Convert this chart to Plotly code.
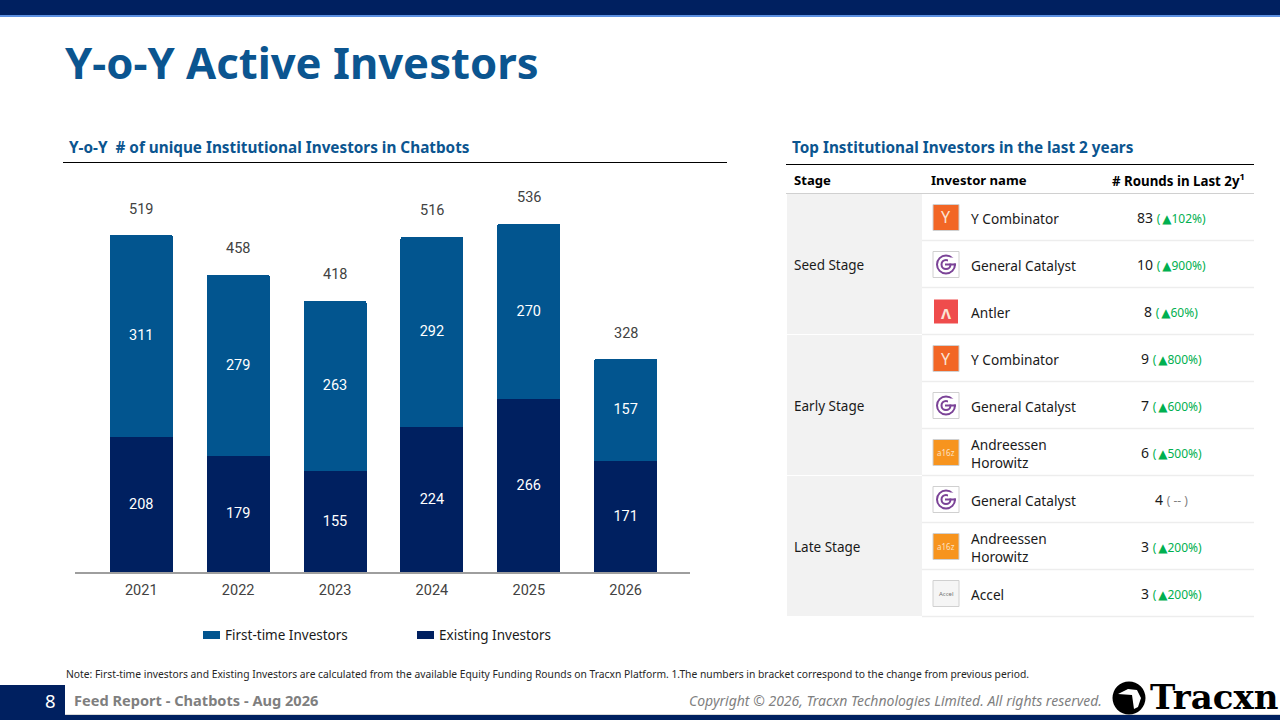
import plotly.graph_objects as go

years = ["2021", "2022", "2023", "2024", "2025", "2026"]
first_time = [311, 279, 263, 292, 270, 157]
existing = [208, 179, 155, 224, 266, 171]
totals = [519, 458, 418, 516, 536, 328]

stages = ["Seed Stage", "Early Stage", "Late Stage"]
investors = ["Y Combinator", "General Catalyst", "Antler",
             "Y Combinator", "General Catalyst", "Andreessen<br>Horowitz",
             "General Catalyst", "Andreessen<br>Horowitz", "Accel"]
logos = ["yc", "gc", "antler", "yc", "gc", "a16z", "gc", "a16z", "accel"]
rounds = [83, 10, 8, 9, 7, 6, 4, 3, 3]
changes = ["102%", "900%", "60%", "800%", "600%", "500%", None, "200%", "200%"]

NAVY = "#002060"
BLUE = "#02558F"
HEAD = "#0B5590"
GREEN = "#00B050"
FONT = "Noto Sans"
W, H = 1280, 720


def px(v):
    return v / W


def py(v):
    return 1 - v / H


shapes = []
notes = []


def rect(x0, y0, x1, y1, fill, line=None, lw=1, layer="below"):
    shapes.append(dict(type="rect", xref="paper", yref="paper", x0=px(x0), x1=px(x1), y0=py(y0), y1=py(y1),
                       fillcolor=fill, line=dict(color=line, width=lw) if line else dict(width=0), layer=layer))


def hline(x0, x1, y, color, lw=1):
    shapes.append(dict(type="line", xref="paper", yref="paper", x0=px(x0), x1=px(x1), y0=py(y), y1=py(y),
                       line=dict(color=color, width=lw), layer="below"))


def circle(cx, cy, r, fill=None, line=None, lw=1, layer="above"):
    shapes.append(dict(type="circle", xref="paper", yref="paper", x0=px(cx - r), x1=px(cx + r),
                       y0=py(cy + r), y1=py(cy - r), fillcolor=fill or "rgba(0,0,0,0)",
                       line=dict(color=line, width=lw) if line else dict(width=0), layer=layer))


def poly(points, fill, layer="above"):
    d = "M" + " L".join(f"{px(x):.5f},{py(y):.5f}" for x, y in points) + " Z"
    shapes.append(dict(type="path", xref="paper", yref="paper", path=d, fillcolor=fill, line=dict(width=0), layer=layer))


def text(x, y, s, size=14, color="#1a1a1a", anchor="left", family=FONT, bold=False, italic=False):
    if bold:
        s = f"<b>{s}</b>"
    if italic:
        s = f"<i>{s}</i>"
    shift = {"left": -2, "right": 2, "center": 0}[anchor]
    notes.append(dict(xref="paper", yref="paper", x=px(x), y=py(y), text=s, showarrow=False, xanchor=anchor,
                      yanchor="middle", align=anchor, xshift=shift, font=dict(size=size, color=color, family=family)))


# page furniture
rect(0, 0, W, 15, NAVY)
rect(0, 15, W, 17, "#5B8FE0")
rect(0, 715, W, 720, NAVY)
rect(0, 685, 65, 715, NAVY)
hline(65, W, 714.5, "#D9D9D9", 1)
text(65, 61.5, "Y-o-Y Active Investors", size=43.6, color=HEAD, bold=True)
text(69, 147, "Y-o-Y&nbsp;&nbsp;# of unique Institutional Investors in Chatbots", size=15.3, color=HEAD, bold=True)
text(792, 147, "Top Institutional Investors in the last 2 years", size=15.3, color=HEAD, bold=True)
hline(63, 727, 162.5, "#000000")
hline(786, 1254, 164.5, "#000000")
text(66, 674, "Note: First-time investors and Existing Investors are calculated from the available Equity Funding Rounds on Tracxn Platform. 1.The numbers in bracket correspond to the change from previous period.", size=10.3, color="#262626")
text(50, 700.5, "8", size=18.5, color="#FFFFFF", anchor="center")
text(74, 699.5, "Feed Report - Chatbots - Aug 2026", size=14.6, color="#7F7F7F", bold=True)
text(1102, 700, "Copyright © 2026, Tracxn Technologies Limited. All rights reserved.", size=14, color="#7F7F7F", anchor="right", italic=True)
circle(1129, 698, 16.5, fill="#000000")
poly([(1118, 694), (1128, 689), (1137, 690), (1141, 698), (1138, 707), (1134, 709), (1132, 695)], "#FFFFFF")
text(1278, 697, "Tracxn", size=34, color="#000000", anchor="right", family="DejaVu Serif", bold=True)

# table
ROW0, ROW_H = 194, 47
text(794, 180, "Stage", size=13.1, color="#000000", bold=True)
text(931, 180, "Investor name", size=13.1, color="#000000", bold=True)
text(1245, 180, "# Rounds in Last 2y<sup>1</sup>", size=13.3, color="#000000", anchor="right", bold=True)
hline(786, 1254, 193.5, "#D0D0D0")
for i, stage in enumerate(stages):
    top = ROW0 + i * 3 * ROW_H
    rect(787, top, 922, top + 3 * ROW_H - 1, "#F2F2F2")
    text(794, top + 1.5 * ROW_H + 0.5, stage, size=13.5)


def logo(kind, cx, cy):
    x0, x1, y0, y1 = cx - 13, cx + 13, cy - 13, cy + 13
    if kind == "yc":
        rect(x0, y0, x1, y1, "#F26625", "#D0D0D0", 1, "above")
        text(cx, cy, "Y", size=16, color="#FBE3D3", anchor="center")
    elif kind == "gc":
        rect(x0, y0, x1, y1, "#FFFFFF", "#D0D0D0", 1, "above")
        circle(cx, cy, 9, line="#7B4397", lw=2)
        circle(cx, cy, 4.5, line="#7B4397", lw=2)
        rect(cx + 2, cy - 7, cx + 11, cy - 1, "#FFFFFF", layer="above")
        rect(cx - 1, cy - 1, cx + 10, cy + 1, "#7B4397", layer="above")
    elif kind == "antler":
        rect(x0 + 1, y0 + 1, x1 - 1, y1 - 1, "#EF4C4C", layer="above")
        text(cx, cy + 1, "<b>Λ</b>", size=15, color="#FBE3D3", anchor="center")
    elif kind == "a16z":
        rect(x0, y0, x1, y1, "#F7941E", "#D0D0D0", 1, "above")
        text(cx, cy, "a16z", size=8, color="#FCE2C4", anchor="center")
    else:
        rect(x0, y0, x1, y1, "#F5F5F5", "#D0D0D0", 1, "above")
        text(cx, cy, "Accel", size=6, color="#707070", anchor="center")


TRI = "<span style='font-family:DejaVu Sans;font-size:12px'>▲</span>"
for i, (inv, kind, n, ch) in enumerate(zip(investors, logos, rounds, changes)):
    top = ROW0 + i * ROW_H
    mid = top + ROW_H / 2 + 1
    hline(922, 1254, top + ROW_H - 0.5, "#EDEDED", 1.5)
    logo(kind, 946, mid - 1)
    text(971, mid - 0.5, inv, size=13.7)
    if ch:
        tail = f"<span style='font-size:12px;color:{GREEN}'>(&#8201;{TRI}{ch})</span>"
    else:
        tail = "<span style='font-size:12px;color:#7F7F7F'>( -- )</span>"
    text(1171, mid - 1, f"{n} {tail}", size=14, anchor="center")

# custom legend matching the reference swatches
rect(203, 631, 220, 639, BLUE)
text(225, 634.5, "First-time Investors", size=13.5)
rect(417, 631, 434, 639, NAVY)
text(439, 634.5, "Existing Investors", size=13.5)

# bar chart
fig = go.Figure()
for name, vals, col in [("Existing Investors", existing, NAVY), ("First-time Investors", first_time, BLUE)]:
    fig.add_bar(x=years, y=vals, name=name, marker=dict(color=col, line=dict(width=0)), width=0.65,
                text=vals, textposition="inside", insidetextanchor="middle", constraintext="none",
                textangle=0, insidetextfont=dict(color="#FFFFFF", size=14.5, family="Roboto"), hoverinfo="skip")

for i, tot in enumerate(totals):
    notes.append(dict(x=i, y=tot, xref="x", yref="y", text=str(tot), showarrow=False, yanchor="middle", yshift=26,
                      font=dict(size=14.5, color="#424242", family="Roboto")))

fig.update_layout(
    width=W, height=H, margin=dict(l=0, r=0, t=0, b=0), paper_bgcolor="#FFFFFF", plot_bgcolor="#FFFFFF",
    barmode="stack", barcornerradius=2, shapes=shapes, annotations=notes, font=dict(family=FONT),
    showlegend=False,
    xaxis=dict(domain=[px(75), px(690)], range=[-0.684, 5.664], type="category", showgrid=False, showline=True,
               linecolor="#9E9E9E", linewidth=2, ticks="", ticklabelstandoff=4,
               tickfont=dict(size=14.5, color="#424242", family="Roboto"), fixedrange=True),
    yaxis=dict(domain=[py(572), py(180)], range=[0, 603.7], visible=False, fixedrange=True),
)

fig.write_html("out.html", config=dict(displayModeBar=False),
               post_script="document.body.style.margin='0';document.body.style.overflow='hidden';")
